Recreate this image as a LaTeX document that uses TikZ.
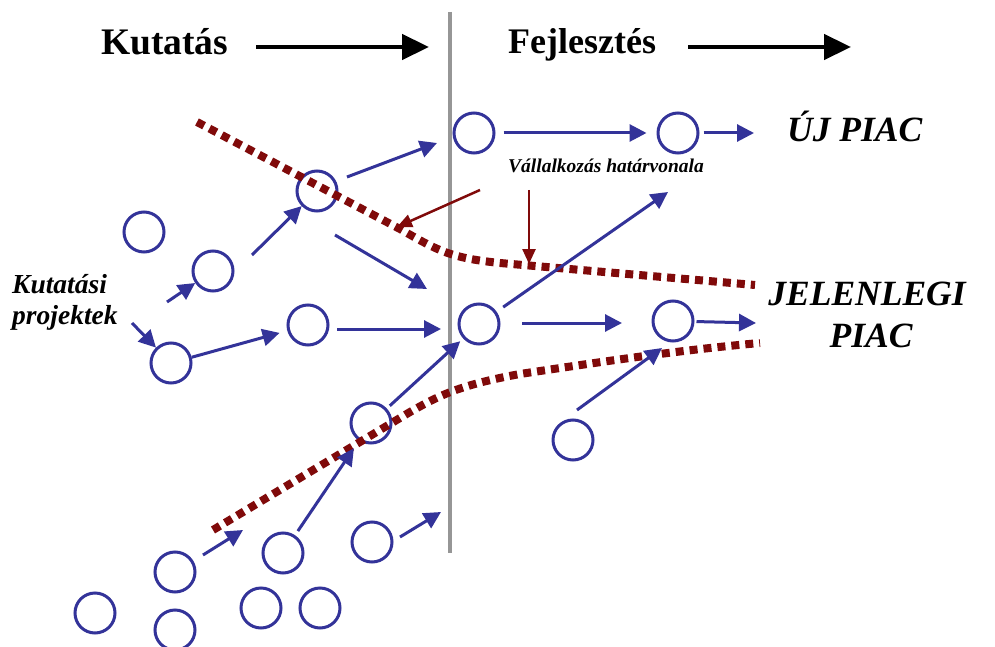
\documentclass[tikz,border=0pt]{standalone}
\usepackage{fontspec}
\setmainfont{Liberation Serif}[BoldFont={Liberation Serif Bold},ItalicFont={Liberation Serif Italic},BoldItalicFont={Liberation Serif Bold Italic}]
\usetikzlibrary{arrows.meta}
\definecolor{pblue}{RGB}{51,51,153}
\definecolor{pred}{RGB}{128,10,10}
\definecolor{pgray}{RGB}{150,150,150}
\begin{document}
\begin{tikzpicture}[x=1pt,y=-1pt,
  proj/.style={circle,draw=pblue,line width=3pt,minimum size=40pt,inner sep=0pt},
  flow/.style={pblue,line width=3pt,-{Triangle[length=17pt,width=17pt]}},
  head/.style={black,line width=4.5pt,-{Triangle[length=27pt,width=25pt]}},
  redarr/.style={pred,line width=2.5pt,-{Triangle[length=15pt,width=13pt]}},
  border/.style={pred,line width=8pt,dash pattern=on 8pt off 6pt},
  lbl/.style={inner sep=0pt,anchor=base west},
]
\useasboundingbox[fill=white] (0,0) rectangle (995,647);

% divider
\coordinate (vtop) at (450,12);
\coordinate (vbot) at (450,553);
\draw[pgray,line width=4pt] (vtop) -- (vbot);

% headers
\node[lbl,font=\fontsize{37.5}{40}\selectfont\bfseries] (kut) at (101,55) {Kutatás};
\node[lbl,font=\fontsize{36}{40}\selectfont\bfseries] (fej) at (508,54) {Fejlesztés};
\coordinate (h1s) at (256,47); \coordinate (h1e) at (429,47);
\coordinate (h2s) at (688,47); \coordinate (h2e) at (851,47);
\draw[head] (h1s) -- (h1e);
\draw[head] (h2s) -- (h2e);

% labels
\node[lbl,font=\fontsize{35.5}{40}\selectfont\bfseries\itshape] (uj) at (787,142) {ÚJ PIAC};
\node[inner sep=0pt,anchor=base,font=\fontsize{35.5}{40}\selectfont\bfseries\itshape] (jel1) at (867,305) {JELENLEGI};
\node[inner sep=0pt,anchor=base,font=\fontsize{35.5}{40}\selectfont\bfseries\itshape] (jel2) at (871,347) {PIAC};
\node[lbl,font=\fontsize{19.5}{22}\selectfont\bfseries\itshape] (hat) at (508,173) {Vállalkozás határvonala};
\node[lbl,font=\fontsize{27.5}{30}\selectfont\bfseries\itshape] (kp1) at (12,293) {Kutatási};
\node[lbl,font=\fontsize{27.5}{30}\selectfont\bfseries\itshape] (kp2) at (12,324) {projektek};

% circles
\node[proj] (c1) at (144,232) {};
\node[proj] (c2) at (213,271) {};
\node[proj] (c3) at (317,191) {};
\node[proj] (c4) at (474,133) {};
\node[proj] (c5) at (678,133) {};
\node[proj] (c6) at (171,363) {};
\node[proj] (c7) at (308,325) {};
\node[proj] (c8) at (479,324) {};
\node[proj] (c9) at (673,321) {};
\node[proj] (c10) at (371,423) {};
\node[proj] (c11) at (573,440) {};
\node[proj] (c12) at (175,572) {};
\node[proj] (c13) at (283,553) {};
\node[proj] (c14) at (372,542) {};
\node[proj] (c15) at (95,613) {};
\node[proj] (c16) at (175,630) {};
\node[proj] (c17) at (261,608) {};
\node[proj] (c18) at (320,608) {};

% boundary lines
\draw[border] (197,122) -- (400,229) .. controls (440,252) and (452,258) .. (500,263) -- (755,285);
\draw[border] (213,530) -- (410,412) .. controls (440,395) and (460,385) .. (520,374) .. controls (600,362) and (680,350) .. (760,343);

% free coordinates
\coordinate (k1) at (167,302);
\coordinate (k2) at (132,323);
\coordinate (a2s) at (252,255);
\coordinate (a3s) at (347,177); \coordinate (a3e) at (437,143);
\coordinate (a4s) at (335,235); \coordinate (a4e) at (427,289);
\coordinate (a6e) at (754,133);
\coordinate (a9s) at (337,329); \coordinate (a9e) at (441,329);
\coordinate (a10e) at (668,192);
\coordinate (a11s) at (522,323); \coordinate (a11e) at (622,323);
\coordinate (a12e) at (756,323);
\coordinate (a13s) at (577,410); \coordinate (a13e) at (662,348);
\coordinate (a16s) at (203,555); \coordinate (a16e) at (243,530);
\coordinate (a17s) at (400,537); \coordinate (a17e) at (441,512);

% flows
\draw[flow] (k1) -- (c2);
\draw[flow] (a2s) -- (c3);
\draw[flow] (a3s) -- (a3e);
\draw[flow] (a4s) -- (a4e);
\draw[flow,shorten <=8pt,shorten >=10pt] (c4) -- (c5);
\draw[flow,shorten <=4pt] (c5) -- (a6e);
\draw[flow] (k2) -- (c6);
\draw[flow,shorten >=8pt] (c6) -- (c7);
\draw[flow] (a9s) -- (a9e);
\draw[flow,shorten <=8pt] (c8) -- (a10e);
\draw[flow] (a11s) -- (a11e);
\draw[flow,shorten <=2pt] (c9) -- (a12e);
\draw[flow] (a13s) -- (a13e);
\draw[flow,shorten <=4pt,shorten >=4pt] (c10) -- (c8);
\draw[flow,shorten <=5pt,shorten >=9pt] (c13) -- (c10);
\draw[flow] (a16s) -- (a16e);
\draw[flow] (a17s) -- (a17e);

% red pointers
\coordinate (r1s) at (480,190); \coordinate (r1e) at (397,227);
\coordinate (r2s) at (529,190); \coordinate (r2e) at (529,264);
\draw[redarr] (r1s) -- (r1e);
\draw[redarr] (r2s) -- (r2e);
\end{tikzpicture}
\end{document}
